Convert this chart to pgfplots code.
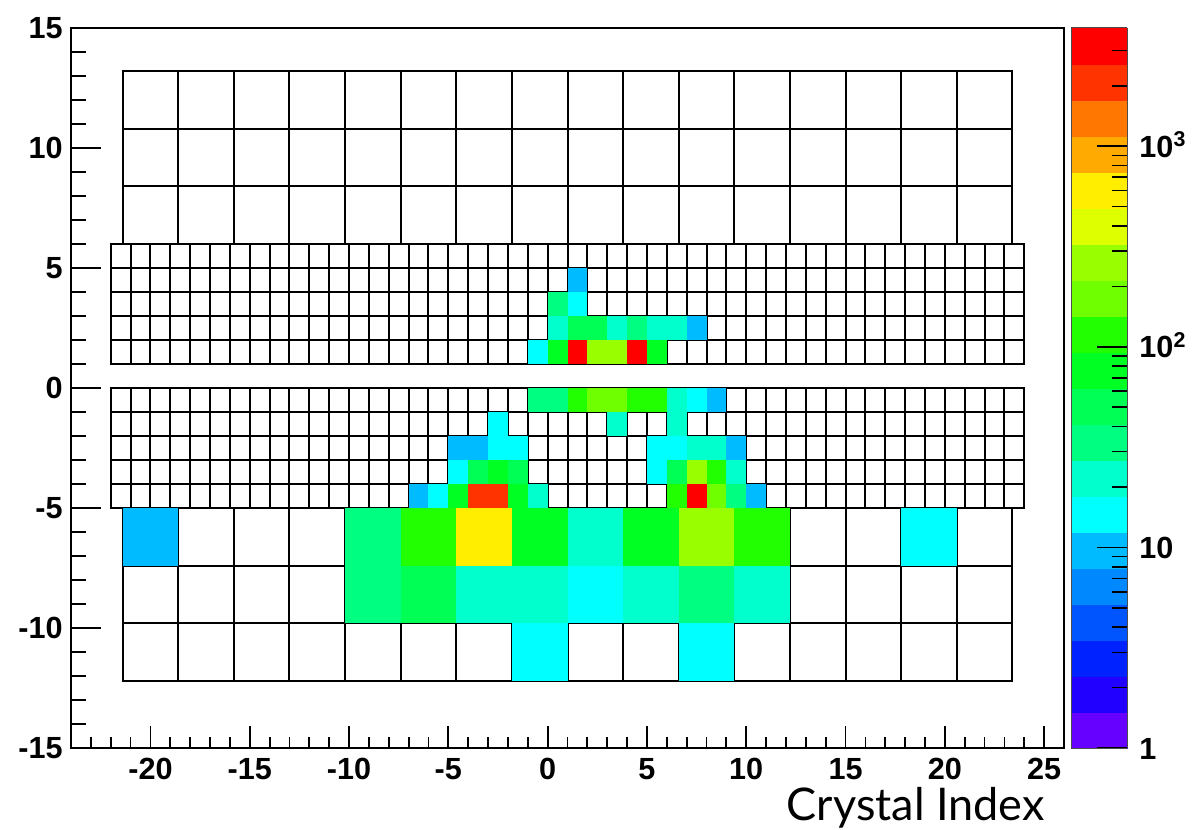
\documentclass[border=0pt]{standalone}
\usepackage{pgfplots}
\pgfplotsset{compat=1.18}
\usepackage{pgfplotstable}
\usepackage{fontspec}
\setmainfont{Liberation Sans}
\newfontfamily\latofont{Lato}
\newcommand{\tlfont}{\fontsize{15.3}{16}\selectfont\bfseries}
\pgfdeclareplotmark{cellS}{\pgfpathrectangle{\pgfqpoint{-4.965pt}{-6pt}}{\pgfqpoint{9.93pt}{12pt}}\pgfusepathqfill}
\pgfdeclareplotmark{cellL}{\pgfpathrectangle{\pgfqpoint{-13.902pt}{-14.4pt}}{\pgfqpoint{27.804pt}{28.8pt}}\pgfusepathqfill}

% small crystals (1 x 1), centre and counts
\pgfplotstableread{
x y c
1.5 4.5 10
0.5 3.5 34
1.5 3.5 15
0.5 2.5 22
1.5 2.5 50
2.5 2.5 50
3.5 2.5 22
4.5 2.5 34
5.5 2.5 22
6.5 2.5 22
7.5 2.5 10
-0.5 1.5 15
0.5 1.5 77
1.5 1.5 3150
2.5 1.5 265
3.5 1.5 265
4.5 1.5 3150
5.5 1.5 77
-0.5 -0.5 34
0.5 -0.5 34
1.5 -0.5 116
2.5 -0.5 175
3.5 -0.5 175
4.5 -0.5 116
5.5 -0.5 116
6.5 -0.5 22
7.5 -0.5 15
8.5 -0.5 10
-2.5 -1.5 15
3.5 -1.5 22
6.5 -1.5 22
-4.5 -2.5 10
-3.5 -2.5 10
-2.5 -2.5 15
-1.5 -2.5 15
5.5 -2.5 15
6.5 -2.5 15
7.5 -2.5 22
8.5 -2.5 22
9.5 -2.5 10
-4.5 -3.5 15
-3.5 -3.5 50
-2.5 -3.5 77
-1.5 -3.5 50
5.5 -3.5 15
6.5 -3.5 50
7.5 -3.5 265
8.5 -3.5 116
9.5 -3.5 22
-6.5 -4.5 10
-5.5 -4.5 15
-4.5 -4.5 77
-3.5 -4.5 2100
-2.5 -4.5 2100
-1.5 -4.5 77
-0.5 -4.5 22
6.5 -4.5 116
7.5 -4.5 3150
8.5 -4.5 175
9.5 -4.5 34
10.5 -4.5 10
}\smallcells

% large crystals (2.8 x 2.4), centre and counts
\pgfplotstableread{
x y c
-20 -6.2 10
-8.8 -6.2 34
-6.0 -6.2 116
-3.2 -6.2 600
-0.4 -6.2 77
2.4 -6.2 22
5.2 -6.2 77
8.0 -6.2 265
10.8 -6.2 116
19.2 -6.2 15
-8.8 -8.6 34
-6.0 -8.6 50
-3.2 -8.6 22
-0.4 -8.6 22
2.4 -8.6 15
5.2 -8.6 22
8.0 -8.6 34
10.8 -8.6 22
-0.4 -11.0 15
8.0 -11.0 15
}\largecells

\pgfplotsset{
  gridln/.style={black, line width=1pt, line cap=rect, forget plot, mark=none},
}

\begin{document}
\begin{tikzpicture}
\begin{axis}[
  at={(0,0)}, anchor=south west,
  scale only axis, width=496.5pt, height=360pt,
  xmin=-24, xmax=26, ymin=-15, ymax=15,
  xtick=\empty,
  ytick={-15,-10,...,15},
  minor ytick={-14,-13,...,14},
  ytick pos=left, tick align=inside,
  major tick length=14.9pt, minor tick length=7.45pt,
  axis line style={line width=1pt},
  every tick/.append style={black, line width=0.9pt},
  yticklabel style={font=\tlfont, inner sep=0pt, anchor=east, xshift=-4pt},
  /pgf/number format/assume math mode=true,
  colormap={rootpal}{rgb255=(102,0,255) rgb255=(34,0,255) rgb255=(0,34,255)
    rgb255=(0,85,255) rgb255=(0,136,255) rgb255=(0,187,255) rgb255=(0,255,255)
    rgb255=(0,255,204) rgb255=(0,255,128) rgb255=(0,255,85) rgb255=(0,255,34)
    rgb255=(34,255,0) rgb255=(111,255,0) rgb255=(153,255,0) rgb255=(221,255,0)
    rgb255=(255,238,0) rgb255=(255,170,0) rgb255=(255,119,0) rgb255=(255,51,0)
    rgb255=(255,0,0)},
  colormap access=piecewise constant,
  point meta min=0, point meta max=3.589,
  colorbar,
  colorbar style={
    at={(parent axis.north east)}, anchor=north west, xshift=-5pt,
    scale only axis, width=28pt, height=360pt,
    ytick={0,1,2,3},
    yticklabels={{1},{10},{10\textsuperscript{2}},{10\textsuperscript{3}}},
    minor ytick={0.30103,0.47712,0.60206,0.69897,0.77815,0.84510,0.90309,0.95424,
      1.30103,1.47712,1.60206,1.69897,1.77815,1.84510,1.90309,1.95424,
      2.30103,2.47712,2.60206,2.69897,2.77815,2.84510,2.90309,2.95424,
      3.30103,3.47712},
    ytick pos=right, yticklabel pos=right, tick align=inside,
    major tick length=15pt, minor tick length=7.5pt,
    every tick/.append style={black, line width=0.8pt},
    axis line style={line width=0.5pt, draw=black!70},
    yticklabel style={font=\tlfont, inner sep=0pt, anchor=base west, xshift=6pt, yshift=-5.5pt},
  },
]
\addplot[scatter, only marks, mark=cellS, forget plot,
  point meta={ln(\thisrow{c})/ln(10)}] table[x=x, y=y] {\smallcells};
\addplot[scatter, only marks, mark=cellL, forget plot,
  point meta={ln(\thisrow{c})/ln(10)}] table[x=x, y=y] {\largecells};
% small crystal grids
\pgfplotsinvokeforeach{-22,-21,...,24}{
  \addplot[gridln] coordinates {(#1,1) (#1,6)};
  \addplot[gridln] coordinates {(#1,-5) (#1,0)};
}
\pgfplotsinvokeforeach{1,2,3,4,5,6,-5,-4,-3,-2,-1,0}{
  \addplot[gridln] coordinates {(-22,#1) (24,#1)};
}
% large crystal grids
\pgfplotsinvokeforeach{-21.4,-18.6,-15.8,-13,-10.2,-7.4,-4.6,-1.8,1,3.8,6.6,9.4,12.2,15,17.8,20.6,23.4}{
  \addplot[gridln] coordinates {(#1,6) (#1,13.2)};
  \addplot[gridln] coordinates {(#1,-12.2) (#1,-5)};
}
\pgfplotsinvokeforeach{6,8.4,10.8,13.2,-5,-7.4,-9.8,-12.2}{
  \addplot[gridln] coordinates {(-21.4,#1) (23.4,#1)};
}
\end{axis}
\begin{axis}[
  at={(0,0)}, anchor=south west,
  scale only axis, width=496.5pt, height=360pt,
  xmin=-24, xmax=26, ymin=-15, ymax=15,
  hide y axis,
  axis line style={line width=1pt},
  xtick={-20,-15,...,25},
  minor xtick={-23,-22,...,25},
  xtick pos=left, tick align=inside,
  major tick length=10.8pt, minor tick length=5.4pt,
  every tick/.append style={black, line width=0.9pt},
  xticklabel style={font=\tlfont, inner sep=0pt, anchor=north, yshift=-5pt},
  /pgf/number format/assume math mode=true,
  xlabel={\latofont\fontsize{22.5}{24}\selectfont Crystal Index},
  xlabel style={at={(axis description cs:1,0)}, anchor=base east, inner sep=0pt, xshift=-9.5pt, yshift=-36.5pt},
]
\end{axis}
\pgfresetboundingbox
\useasboundingbox (-35.5pt,-41pt) rectangle (562pt,374pt);
\end{tikzpicture}
\end{document}
